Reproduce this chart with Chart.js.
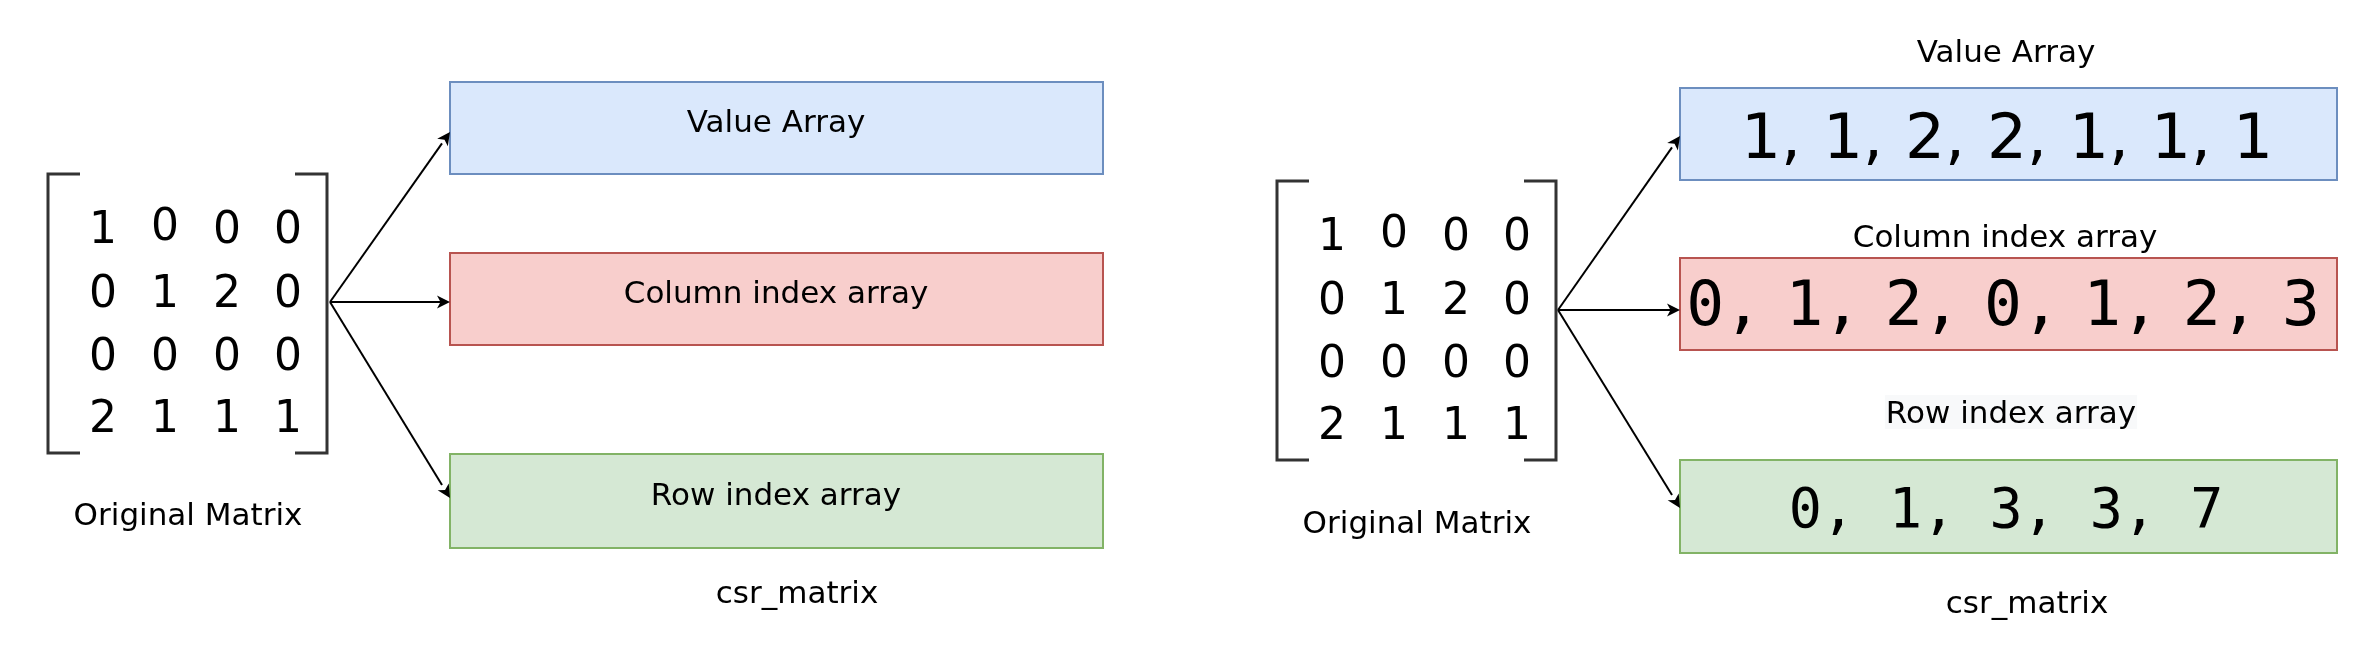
<!DOCTYPE html>
<html>
<head>
<meta charset="utf-8">
<title>CSR matrix</title>
<script src="https://cdn.jsdelivr.net/npm/chart.js@4.4.1/dist/chart.umd.min.js"></script>
<style>
  html, body { margin: 0; padding: 0; background: #fff; }
  #csr-chart { display: block; }
</style>
</head>
<body>
<canvas id="csr-chart" width="2380" height="666"></canvas>
<script>
// Data shown in the diagram
const matrixRows = [
  [1, 0, 0, 0],
  [0, 1, 2, 0],
  [0, 0, 0, 0],
  [2, 1, 1, 1]
];
const valueArray = [1, 1, 2, 2, 1, 1, 1];
const columnIndex = [0, 1, 2, 0, 1, 2, 3];
const rowIndex = [0, 1, 3, 3, 7];
const boxTitles = ['Value Array', 'Column index array', 'Row index array'];
const matrixCaption = 'Original Matrix';
const csrCaption = 'csr_matrix';

// Box styles (draw.io blue / red / green)
const boxFills = ['#dae8fc', '#f8cecc', '#d5e8d4'];
const boxStrokes = ['#6c8ebf', '#b85450', '#82b366'];

// Layout of the two panels, in canvas units
const panels = [
  {
    bracket: { left: 48, right: 327, top: 174, bottom: 453, serif: 32 },
    colX: [103, 165, 227, 288],
    rowY: [243, 307, 370, 432],
    caption: { x: 188, y: 525 },
    origin: { x: 330, y: 302 },
    boxLeft: 450, boxRight: 1103,
    boxTops: [82, 253, 454], boxBottoms: [174, 345, 548],
    arrowY: [132, 302, 498],
    titles: { inside: true, x: [776, 776, 776], y: [132, 303, 505] },
    csr: { x: 797, y: 603 }
  },
  {
    bracket: { left: 1277, right: 1556, top: 181, bottom: 460, serif: 32 },
    colX: [1332, 1394, 1456, 1517],
    rowY: [250, 314, 377, 439],
    caption: { x: 1417, y: 533 },
    origin: { x: 1558, y: 310 },
    boxLeft: 1680, boxRight: 2337,
    boxTops: [88, 258, 460], boxBottoms: [180, 350, 553],
    arrowY: [136, 310, 508],
    titles: { inside: false, x: [2006, 2005, 2011], y: [62, 247, 423] },
    csr: { x: 2027, y: 613 },
    arrays: [
      { values: valueArray, font: '63px "DejaVu Sans"', center: 2007, spacing: 82, y: 158 },
      { values: columnIndex, font: '63px "DejaVu Sans Mono"', center: 2003, spacing: 99.3, y: 325 },
      { values: rowIndex, font: '55px "DejaVu Sans Mono"', center: 2006, spacing: 100.4, y: 527 }
    ]
  }
];

// The "0" in row 1, column 2 sits a little higher in the picture
const raisedCell = { r: 0, c: 1, dy: -3 };
const labelFont = '31px "DejaVu Sans"';
const matrixFont = '44px "DejaVu Sans"';

// One line dataset per arrow (origin -> box edge)
const arrowDatasets = [];
panels.forEach(p => {
  p.arrowY.forEach(y => {
    arrowDatasets.push({
      type: 'line',
      data: [{ x: p.origin.x, y: p.origin.y }, { x: p.boxLeft - 8, y: y + (p.origin.y - y) * 8 / (p.boxLeft - p.origin.x) }],
      tip: { x: p.boxLeft, y: y },
      borderColor: '#000',
      borderWidth: 2,
      pointRadius: 0,
      showLine: true,
      fill: false
    });
  });
});

function drawText(ctx, text, x, y, font, align) {
  ctx.font = font;
  ctx.fillStyle = '#000';
  ctx.textAlign = align || 'center';
  ctx.textBaseline = 'alphabetic';
  ctx.fillText(text, x, y);
}

// Custom drawing: background, boxes, brackets, labels, arrowheads
const diagramPlugin = {
  id: 'diagram',
  beforeDatasetsDraw(chart) {
    const ctx = chart.ctx;
    const px = v => chart.scales.x.getPixelForValue(v);
    const py = v => chart.scales.y.getPixelForValue(v);

    ctx.save();
    ctx.fillStyle = '#fff';
    ctx.fillRect(0, 0, chart.width, chart.height);

    panels.forEach(p => {
      // Matrix brackets
      const b = p.bracket;
      ctx.strokeStyle = '#333';
      ctx.lineWidth = 3;
      ctx.lineJoin = 'miter';
      ctx.beginPath();
      ctx.moveTo(px(b.left + b.serif), py(b.top));
      ctx.lineTo(px(b.left), py(b.top));
      ctx.lineTo(px(b.left), py(b.bottom));
      ctx.lineTo(px(b.left + b.serif), py(b.bottom));
      ctx.moveTo(px(b.right - b.serif), py(b.top));
      ctx.lineTo(px(b.right), py(b.top));
      ctx.lineTo(px(b.right), py(b.bottom));
      ctx.lineTo(px(b.right - b.serif), py(b.bottom));
      ctx.stroke();

      // Matrix cells
      matrixRows.forEach((row, r) => {
        row.forEach((v, c) => {
          const dy = (r === raisedCell.r && c === raisedCell.c) ? raisedCell.dy : 0;
          drawText(ctx, String(v), px(p.colX[c]), py(p.rowY[r] + dy), matrixFont);
        });
      });
      drawText(ctx, matrixCaption, px(p.caption.x), py(p.caption.y), labelFont);

      // Output boxes
      boxTitles.forEach((title, i) => {
        const x0 = px(p.boxLeft), x1 = px(p.boxRight);
        const y0 = py(p.boxTops[i]), y1 = py(p.boxBottoms[i]);
        ctx.fillStyle = boxFills[i];
        ctx.fillRect(x0, y0, x1 - x0, y1 - y0);
        ctx.strokeStyle = boxStrokes[i];
        ctx.lineWidth = 2;
        ctx.strokeRect(x0, y0, x1 - x0, y1 - y0);

        const tx = px(p.titles.x[i]), ty = py(p.titles.y[i]);
        if (!p.titles.inside && i === 2) {
          // light label background behind "Row index array"
          ctx.font = labelFont;
          const w = ctx.measureText(title).width;
          ctx.fillStyle = '#f8f9fa';
          ctx.fillRect(tx - w / 2 - 1, ty - 28, w + 2, 34);
        }
        drawText(ctx, title, tx, ty, labelFont);
      });

      // Array contents, one element at a time
      if (p.arrays) {
        p.arrays.forEach(a => {
          ctx.font = a.font;
          const n = a.values.length;
          a.values.forEach((v, i) => {
            const cx = a.center + (i - (n - 1) / 2) * a.spacing;
            const w = ctx.measureText(String(v)).width;
            const s = i < n - 1 ? v + ',' : String(v);
            drawText(ctx, s, px(cx) - w / 2, py(a.y), a.font, 'left');
          });
        });
      }

      drawText(ctx, csrCaption, px(p.csr.x), py(p.csr.y), labelFont);
    });
    ctx.restore();
  },
  afterDatasetsDraw(chart) {
    const ctx = chart.ctx;
    const px = v => chart.scales.x.getPixelForValue(v);
    const py = v => chart.scales.y.getPixelForValue(v);
    ctx.save();
    ctx.fillStyle = '#000';
    chart.data.datasets.forEach(ds => {
      const start = ds.data[0];
      const ang = Math.atan2(ds.tip.y - start.y, ds.tip.x - start.x);
      const len = 13, half = 6.5, notch = 9.5;
      const tx = px(ds.tip.x), ty = py(ds.tip.y);
      const ca = Math.cos(ang), sa = Math.sin(ang);
      ctx.beginPath();
      ctx.moveTo(tx, ty);
      ctx.lineTo(tx - len * ca + half * sa, ty - len * sa - half * ca);
      ctx.lineTo(tx - notch * ca, ty - notch * sa);
      ctx.lineTo(tx - len * ca - half * sa, ty - len * sa + half * ca);
      ctx.closePath();
      ctx.fill();
    });
    ctx.restore();
  }
};

new Chart(document.getElementById('csr-chart'), {
  type: 'scatter',
  data: { datasets: arrowDatasets },
  options: {
    responsive: false,
    animation: false,
    devicePixelRatio: 1,
    layout: { padding: 0 },
    plugins: {
      legend: { display: false },
      tooltip: { enabled: false }
    },
    scales: {
      x: { type: 'linear', min: 0, max: 2380, display: false },
      y: { type: 'linear', min: 0, max: 666, reverse: true, display: false }
    }
  },
  plugins: [diagramPlugin]
});
</script>
</body>
</html>
